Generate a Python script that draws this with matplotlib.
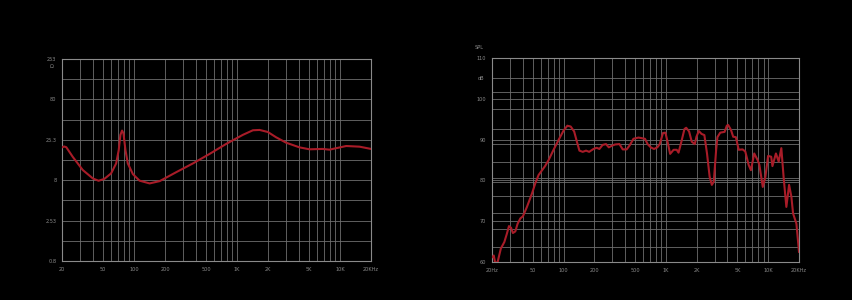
import numpy as np
import matplotlib.pyplot as plt
from matplotlib.ticker import FixedLocator, NullFormatter

# impedance curve (left)
imp_freq = [20, 21, 22, 25.4, 31.8, 39.9, 45.3, 51.5, 59.9, 67.1, 71.1, 73.8, 76.6, 79,
            82.6, 87.1, 97.6, 113, 141.8, 177.9, 255, 373, 541, 785, 1138, 1428, 1657,
            1993, 2395, 3000, 4040, 5050, 6800, 7900, 11500, 15500, 20000]
imp_ohm = [20.4, 20.9, 20.5, 15.6, 10.7, 8.4, 7.87, 8.3, 9.7, 12.9, 18.9, 29.1, 32.9, 30.5,
           18.9, 12.9, 9.5, 7.9, 7.3, 7.8, 10.0, 12.9, 16.9, 22.5, 29.1, 33.2, 33.5,
           31.6, 27.2, 23.3, 20.4, 19.3, 19.5, 19.1, 21.2, 20.8, 19.5]

# SPL curve (right)
spl_freq = [20.3, 20.8, 21.4, 22.6, 24.4, 26.4, 28.0, 29.3, 30.7, 32.0, 33.8, 35.6, 37.9,
            40.1, 43.9, 49.2, 53, 57, 61.3, 66, 71.5, 79.9, 89.4, 100, 109, 117.5, 127,
            135, 143, 154, 166, 178, 196, 211, 224, 241, 260, 277, 297, 319, 352, 379,
            414, 446, 482, 540, 625, 663, 712, 766, 825, 871, 937, 990, 1038, 1101,
            1190, 1276, 1330, 1412, 1520, 1580, 1686, 1790, 1917, 1990, 2100, 2230,
            2379, 2524, 2678, 2813, 2940, 3100, 3190, 3400, 3750, 3940, 4060, 4323,
            4550, 4830, 5150, 5620, 5970, 6440, 6780, 7300, 7880, 8200, 8850, 9390,
            9980, 10700, 11000, 11900, 12660, 13440, 14180, 15050, 16000, 16850,
            17500, 18870, 20000]
spl_db = [61.2, 61.6, 60.0, 59.8, 63.3, 64.9, 67.0, 68.8, 68.4, 67.1, 67.5, 69.4, 70.7,
          71.2, 73.5, 76.8, 79.3, 81.3, 82.4, 83.5, 85.0, 87.5, 89.9, 92.2, 93.4, 93.2, 92.0,
          89.5, 87.3, 87.0, 87.3, 87.0, 87.7, 88.0, 87.7, 88.7, 88.9, 88.1, 88.5, 88.8,
          88.9, 87.6, 87.6, 88.7, 90.2, 90.5, 90.2, 88.9, 88.1, 87.7, 88.1, 88.9, 91.6,
          91.7, 89.5, 86.5, 87.5, 87.5, 86.8, 89.3, 92.6, 92.9, 92.0, 89.5, 88.9, 90.7,
          92.1, 91.4, 91.1, 86.6, 80.9, 78.9, 79.7, 87.5, 90.6, 91.7, 91.9, 93.4, 93.6,
          92.4, 90.7, 90.6, 87.5, 87.6, 87.1, 83.8, 82.5, 86.6, 85.0, 83.8, 78.4, 80.9,
          86.0, 85.8, 83.5, 86.6, 84.6, 87.9, 80.5, 73.5, 78.9, 76.0, 71.9, 69.4, 62.5]

x_labels = ["20", "50", "100", "200", "500", "1K", "2K", "5K", "10K", "20KHz"]
x_label_pos = [20, 50, 100, 200, 500, 1000, 2000, 5000, 10000, 20000]

imp_ticks = [0.8, 2.53, 8, 25.3, 80, 253]
imp_labels = ["0.8", "2.53", "8", "25.3", "80", "253"]
spl_ticks = [60, 70, 80, 90, 100, 110]
spl_extra_grid = [63.7, 68, 72.1, 76.2, 79.5, 80.5, 84.4, 88.8, 92.5, 97.5, 101.7, 105]

red = "#a81c28"
grid_c = "#6e6e6e"
txt_c = "#8a8a8a"

fig = plt.figure(figsize=(8.53, 3.0), dpi=100, facecolor="black")
ax1 = fig.add_axes([62 / 853, 1 - 261 / 300, 309 / 853, 202 / 300])
ax2 = fig.add_axes([492 / 853, 1 - 262 / 300, 307 / 853, 204 / 300])

vgrid = []
for dec in [10, 100, 1000, 10000]:
    for m in range(1, 10):
        f = m * dec
        if 20 <= f <= 20000:
            vgrid.append(f)

for ax in (ax1, ax2):
    ax.set_facecolor("black")
    ax.set_xscale("log")
    ax.set_xlim(20, 20000)
    for f in vgrid:
        ax.axvline(f, color=grid_c, lw=0.6, zorder=1)
    for s in ax.spines.values():
        s.set_color("#8a8a8a")
        s.set_linewidth(0.8)
    ax.xaxis.set_major_locator(FixedLocator(x_label_pos))
    ax.xaxis.set_minor_locator(FixedLocator([]))
    ax.xaxis.set_minor_formatter(NullFormatter())
    ax.tick_params(axis="both", which="both", length=0, colors=txt_c, labelsize=3.6, pad=4)

# left: impedance
ax1.set_yscale("log")
ax1.set_ylim(0.8, 253)
for k in range(11):
    ax1.axhline(0.8 * 10 ** (k * 0.25), color=grid_c, lw=0.6, zorder=1)
ax1.yaxis.set_major_locator(FixedLocator(imp_ticks))
ax1.yaxis.set_minor_locator(FixedLocator([]))
ax1.yaxis.set_minor_formatter(NullFormatter())
ax1.set_yticklabels(imp_labels)
ax1.set_xticklabels(x_labels)
ax1.plot(imp_freq, imp_ohm, color=red, lw=1.5, zorder=3)
fig.text(50 / 853, 1 - 66 / 300, "Ω", color=txt_c, fontsize=3.6, va="center")

# right: SPL
ax2.set_ylim(60, 110)
for v in spl_ticks[1:-1] + spl_extra_grid:
    ax2.axhline(v, color=grid_c, lw=0.6, zorder=1)
ax2.set_yticks(spl_ticks)
ax2.set_xticklabels(["20Hz"] + x_labels[1:])
ax2.plot(spl_freq, spl_db, color=red, lw=1.5, zorder=3, clip_on=True)
fig.text(484 / 853, 1 - 47 / 300, "SPL", color=txt_c, fontsize=3.6, ha="right", va="center")
fig.text(484 / 853, 1 - 79 / 300, "dB", color=txt_c, fontsize=3.6, ha="right", va="center")

fig.savefig("out.png", dpi=100, facecolor="black")
